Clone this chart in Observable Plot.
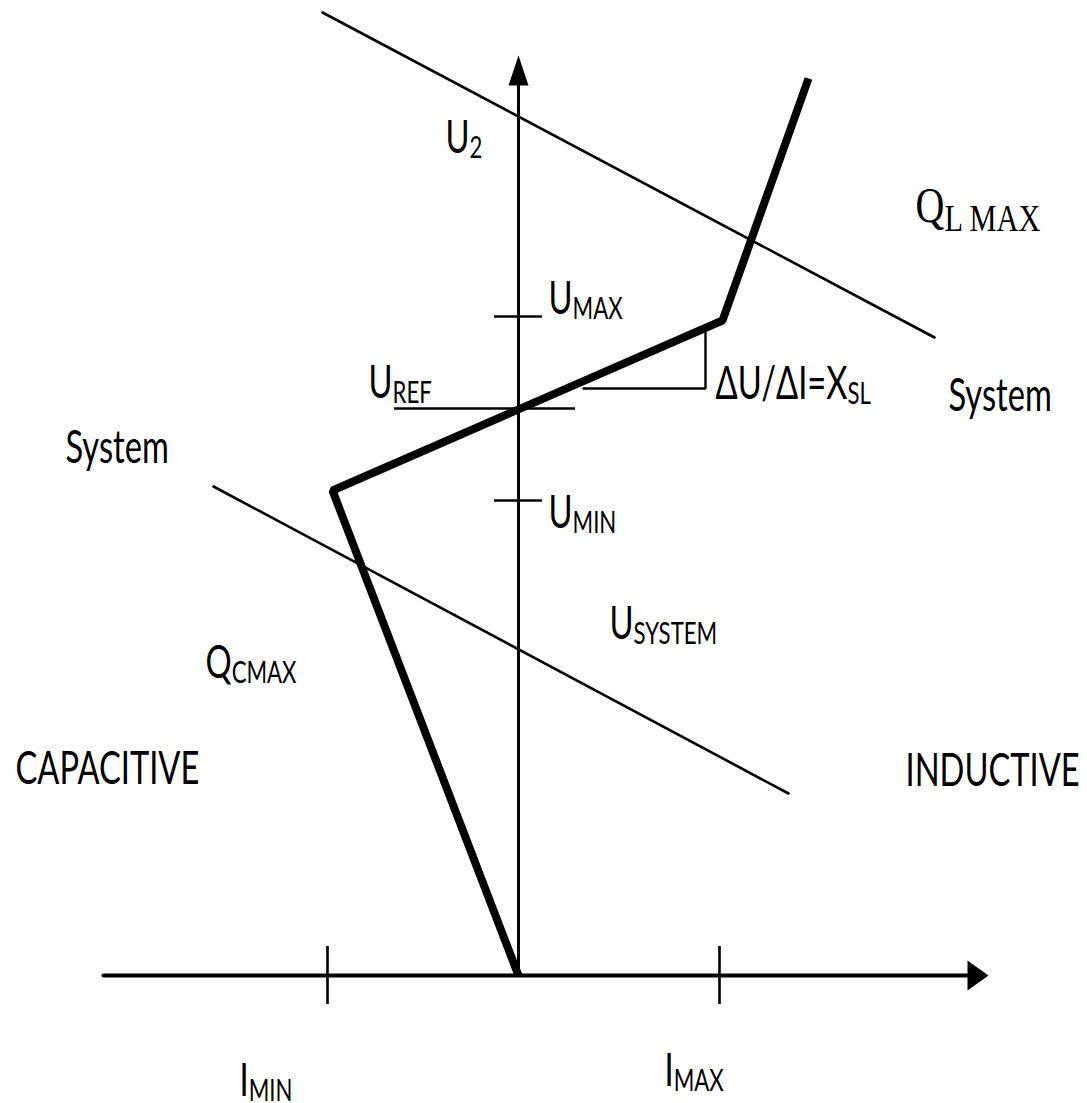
<!DOCTYPE html>
<html>
<head>
<meta charset="utf-8">
<script src="https://cdn.jsdelivr.net/npm/d3@7"></script>
<script src="https://cdn.jsdelivr.net/npm/@observablehq/plot@0.6"></script>
<style>
  html, body { margin: 0; padding: 0; background: #fff; }
  #chart svg { display: block; }
</style>
</head>
<body>
<div id="chart"></div>
<script>
// Static VAR compensator V–I characteristic (schematic units).
// i: reactive current (capacitive < 0 < inductive), u: voltage U2.

// Axes
const iAxisLine = [{i: -4.15, u: 0}, {i: 4.62, u: 0}];
const iAxisTip = [{i: 4.70, u: 0}];
const uAxisLine = [{i: 0, u: 0}, {i: 0, u: 9.0}];
const uAxisTip = [{i: 0, u: 9.20}];

// Current limits on the horizontal axis
const iTicks = [
  {name: "IMIN", i: -1.91},
  {name: "IMAX", i: 2.01}
];

// Voltage marks on the vertical axis
const uTicks = [
  {name: "UMAX", u: 6.59},
  {name: "UMIN", u: 4.75}
];
const uRef = [{name: "UREF", u: 5.67, i1: -1.24, i2: 0.57}];

// SVC control characteristic: capacitive limit, slope XSL, inductive limit
const characteristic = [
  {i: 0.00, u: 0.00},
  {i: -1.86, u: 4.85},
  {i: 2.04, u: 6.55},
  {i: 2.90, u: 8.97}
];

// Slope triangle ΔU/ΔI
const slopeTriangle = [
  {i: 0.65, u: 5.87},
  {i: 1.87, u: 5.87},
  {i: 1.87, u: 6.47}
];

// System load lines
const systemLines = [
  {line: "upper", i: -1.96, u: 9.63},
  {line: "upper", i: 4.16, u: 6.38},
  {line: "lower", i: -3.05, u: 4.89},
  {line: "lower", i: 2.70, u: 1.82}
];

// Annotations (main text + subscript)
const labels = [
  {i: -0.73, u: 8.23, main: "U", sub: "2"},
  {i: 0.30, u: 6.62, main: "U", sub: "MAX"},
  {i: -1.50, u: 5.78, main: "U", sub: "REF"},
  {i: 1.97, u: 5.77, main: "ΔU/ΔI=X", sub: "SL"},
  {i: 4.30, u: 5.65, main: "System", sub: ""},
  {i: -4.53, u: 5.13, main: "System", sub: ""},
  {i: 0.30, u: 4.48, main: "U", sub: "MIN"},
  {i: 0.91, u: 3.37, main: "U", sub: "SYSTEM"},
  {i: -3.13, u: 2.98, main: "Q", sub: "CMAX"},
  {i: -5.03, u: 1.92, main: "CAPACITIVE", sub: ""},
  {i: 3.87, u: 1.90, main: "INDUCTIVE", sub: ""},
  {i: -2.79, u: -1.20, main: "I", sub: "MIN"},
  {i: 1.46, u: -1.10, main: "I", sub: "MAX"}
];
const serifLabels = [
  {i: 3.97, u: 7.54, main: "Q", sub: "L MAX"}
];

// Filled arrowheads, tip at the dot position
const arrowRight = {
  draw(ctx) { ctx.moveTo(0, 0); ctx.lineTo(-21, -15); ctx.lineTo(-21, 15); ctx.closePath(); }
};
const arrowUp = {
  draw(ctx) { ctx.moveTo(0, 0); ctx.lineTo(-10, 30); ctx.lineTo(10, 30); ctx.closePath(); }
};

const tickHalf = 0.29;
const uTickHalf = 0.24;

const chart = Plot.plot({
  width: 1087,
  height: 1103,
  margin: 0,
  x: {domain: [-5.18, 5.69], axis: null},
  y: {domain: [-1.28, 9.75], axis: null},
  style: {background: "#fff"},
  marks: [
    // system lines
    Plot.line(systemLines, {x: "i", y: "u", z: "line", stroke: "#000", strokeWidth: 2.6}),
    // axes
    Plot.line(iAxisLine, {x: "i", y: "u", stroke: "#000", strokeWidth: 4}),
    Plot.dot(iAxisTip, {x: "i", y: "u", symbol: arrowRight, fill: "#000", stroke: "none"}),
    Plot.line(uAxisLine, {x: "i", y: "u", stroke: "#000", strokeWidth: 3}),
    Plot.dot(uAxisTip, {x: "i", y: "u", symbol: arrowUp, fill: "#000", stroke: "none"}),
    Plot.ruleX(iTicks, {x: "i", y1: -tickHalf, y2: tickHalf, stroke: "#000", strokeWidth: 2.6}),
    Plot.ruleY(uTicks, {y: "u", x1: -uTickHalf, x2: uTickHalf, stroke: "#000", strokeWidth: 2.6}),
    Plot.ruleY(uRef, {y: "u", x1: "i1", x2: "i2", stroke: "#000", strokeWidth: 2.6}),
    // slope triangle
    Plot.line(slopeTriangle, {x: "i", y: "u", stroke: "#000", strokeWidth: 2.4, strokeLinejoin: "miter"}),
    // control characteristic
    Plot.line(characteristic, {x: "i", y: "u", stroke: "#000", strokeWidth: 8, strokeLinejoin: "miter", strokeLinecap: "butt"}),
    // labels
    Plot.text(labels, {x: "i", y: "u", text: d => d.main + d.sub, textAnchor: "start", lineAnchor: "bottom",
      fontFamily: "Lato, 'Open Sans', sans-serif", fontSize: 46, fill: "#000"}),
    Plot.text(serifLabels, {x: "i", y: "u", text: d => d.main + d.sub, textAnchor: "start", lineAnchor: "bottom",
      fontFamily: "'Liberation Serif', 'DejaVu Serif', serif", fontSize: 50, fill: "#000"})
  ]
});

document.getElementById("chart").appendChild(chart);

// Rebuild each label with a subscript tspan and narrow the glyphs
const NS = "http://www.w3.org/2000/svg";
function richText(group, data, subScale, subDy, squeeze) {
  group.querySelectorAll("text").forEach((el, k) => {
    const d = data[k];
    el.textContent = "";
    const a = document.createElementNS(NS, "tspan");
    a.textContent = d.main;
    el.appendChild(a);
    if (d.sub) {
      const b = document.createElementNS(NS, "tspan");
      b.setAttribute("font-size", subScale + "em");
      b.setAttribute("dy", subDy);
      b.textContent = d.sub;
      el.appendChild(b);
    }
    const w = el.getComputedTextLength();
    el.setAttribute("textLength", (w * squeeze).toFixed(1));
    el.setAttribute("lengthAdjust", "spacingAndGlyphs");
  });
}
const textGroups = chart.querySelectorAll('g[aria-label="text"]');
richText(textGroups[0], labels, 0.68, 5, 0.71);
richText(textGroups[1], serifLabels, 0.76, 9, 0.80);
</script>
</body>
</html>
